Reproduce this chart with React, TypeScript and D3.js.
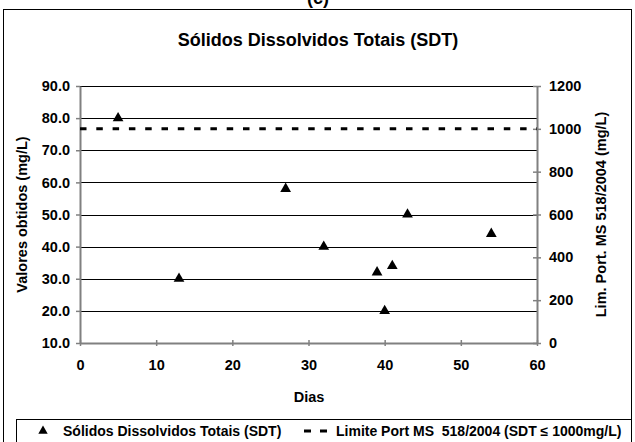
import React, { useRef, useEffect } from "react";
import * as d3 from "d3";

const days = [5, 13, 27, 32, 39, 40, 41, 43, 54];
const sdtValues = [80, 30, 58, 40, 32, 20, 34, 50, 44];
const limitValue = 1000;
const xTicks = [0, 10, 20, 30, 40, 50, 60];
const leftTicks = [10, 20, 30, 40, 50, 60, 70, 80, 90];
const rightTicks = [0, 200, 400, 600, 800, 1000, 1200];

const W = 635;
const H = 442;
const FONT = "'Liberation Sans', Arial, sans-serif";

const App: React.FC = () => {
  const ref = useRef<SVGSVGElement>(null);

  useEffect(() => {
    if (!ref.current) return;
    const svg = d3.select(ref.current);
    svg.selectAll("*").remove();

    const x = d3.scaleLinear().domain([0, 60]).range([80, 537]);
    const yL = d3.scaleLinear().domain([10, 90]).range([343, 86]);
    const yR = d3.scaleLinear().domain([0, 1200]).range([343, 86]);

    // "(c)" label, cut by the top edge as in the source
    svg
      .append("text")
      .attr("x", 318)
      .attr("y", 4)
      .attr("text-anchor", "middle")
      .attr("font-family", FONT)
      .attr("font-weight", "bold")
      .attr("font-size", 18)
      .text("(c)");

    // outer chart border
    svg
      .append("rect")
      .attr("x", 3.5)
      .attr("y", 9.5)
      .attr("width", 628)
      .attr("height", 440)
      .attr("fill", "white")
      .attr("stroke", "#000")
      .attr("stroke-width", 1);

    svg
      .append("text")
      .attr("x", 318)
      .attr("y", 46)
      .attr("text-anchor", "middle")
      .attr("font-family", FONT)
      .attr("font-weight", "bold")
      .attr("font-size", 18)
      .text("Sólidos Dissolvidos Totais (SDT)");

    // gridlines
    svg
      .append("g")
      .selectAll("line")
      .data(leftTicks.slice(1))
      .join("line")
      .attr("x1", x(0))
      .attr("x2", x(60))
      .attr("y1", (d) => Math.round(yL(d)) + 0.5)
      .attr("y2", (d) => Math.round(yL(d)) + 0.5)
      .attr("stroke", "#000")
      .attr("stroke-width", 1);

    const tickStyle = (g: d3.Selection<SVGGElement, unknown, null, undefined>) => {
      g.selectAll(".domain").attr("stroke", "#808080").attr("stroke-width", 2);
      g.selectAll(".tick line").attr("stroke", "#808080").attr("stroke-width", 1.5);
      g.selectAll(".tick text")
        .attr("font-family", FONT)
        .attr("font-weight", "bold")
        .attr("font-size", 14.5)
        .attr("fill", "#000");
    };

    // left axis
    const gl = svg
      .append("g")
      .attr("transform", `translate(${x(0)},0)`)
      .call(
        d3
          .axisLeft(yL)
          .tickValues(leftTicks)
          .tickFormat(d3.format(".1f"))
          .tickSizeInner(4)
          .tickSizeOuter(0)
          .tickPadding(6)
      );
    tickStyle(gl);

    // right axis
    const gr = svg
      .append("g")
      .attr("transform", `translate(${x(60)},0)`)
      .call(
        d3
          .axisRight(yR)
          .tickValues(rightTicks)
          .tickFormat(d3.format("d"))
          .tickSizeInner(4)
          .tickSizeOuter(0)
          .tickPadding(8)
      );
    tickStyle(gr);
    gr.selectAll(".tick line").attr("x1", -4);

    // bottom axis
    const gb = svg
      .append("g")
      .attr("transform", `translate(0,${yL(10)})`)
      .call(
        d3
          .axisBottom(x)
          .tickValues(xTicks)
          .tickFormat(d3.format("d"))
          .tickSizeInner(3)
          .tickSizeOuter(0)
          .tickPadding(14)
      );
    tickStyle(gb);
    gb.selectAll(".tick line").attr("y1", -3);

    // limit line
    svg
      .append("line")
      .attr("x1", x(0))
      .attr("x2", x(60))
      .attr("y1", yR(limitValue))
      .attr("y2", yR(limitValue))
      .attr("stroke", "#000")
      .attr("stroke-width", 3)
      .attr("stroke-dasharray", "6.5,9.8");

    // points
    const tri = d3.symbol().type(d3.symbolTriangle).size(50);
    svg
      .append("g")
      .selectAll("path")
      .data(days.map((d, i) => ({ d, v: sdtValues[i] })))
      .join("path")
      .attr("d", tri)
      .attr("transform", (p) => `translate(${x(p.d)},${yL(p.v)})`)
      .attr("fill", "#000");

    // axis titles
    svg
      .append("text")
      .attr("x", 309)
      .attr("y", 402)
      .attr("text-anchor", "middle")
      .attr("font-family", FONT)
      .attr("font-weight", "bold")
      .attr("font-size", 14.5)
      .text("Dias");

    svg
      .append("text")
      .attr("transform", `translate(27,${(yL(10) + yL(90)) / 2}) rotate(-90)`)
      .attr("text-anchor", "middle")
      .attr("font-family", FONT)
      .attr("font-weight", "bold")
      .attr("font-size", 14.5)
      .text("Valores obtidos (mg/L)");

    svg
      .append("text")
      .attr("transform", `translate(606,${(yL(10) + yL(90)) / 2}) rotate(-90)`)
      .attr("text-anchor", "middle")
      .attr("font-family", FONT)
      .attr("font-weight", "bold")
      .attr("font-size", 14.5)
      .text("Lim. Port. MS 518/2004 (mg/L)");

    // legend
    const lg = svg.append("g");
    lg.append("rect")
      .attr("x", 16.5)
      .attr("y", 419.5)
      .attr("width", 615)
      .attr("height", 30)
      .attr("fill", "white")
      .attr("stroke", "#000")
      .attr("stroke-width", 1);
    lg.append("path")
      .attr("d", d3.symbol().type(d3.symbolTriangle).size(38)())
      .attr("transform", "translate(43,431)")
      .attr("fill", "#000");
    lg.append("text")
      .attr("x", 63)
      .attr("y", 436)
      .attr("font-family", FONT)
      .attr("font-weight", "bold")
      .attr("font-size", 14)
      .text("Sólidos Dissolvidos Totais (SDT)");
    lg.append("line")
      .attr("x1", 304)
      .attr("x2", 327)
      .attr("y1", 431)
      .attr("y2", 431)
      .attr("stroke", "#000")
      .attr("stroke-width", 3)
      .attr("stroke-dasharray", "7,9");
    lg.append("text")
      .attr("x", 336)
      .attr("y", 436)
      .attr("font-family", FONT)
      .attr("font-weight", "bold")
      .attr("font-size", 14)
      .style("white-space", "pre")
      .text("Limite Port MS  518/2004 (SDT ≤ 1000mg/L)");
  }, []);

  return (
    <svg
      ref={ref}
      width={W}
      height={H}
      style={{ position: "absolute", left: 0, top: 0, background: "white" }}
    />
  );
};

export default App;
